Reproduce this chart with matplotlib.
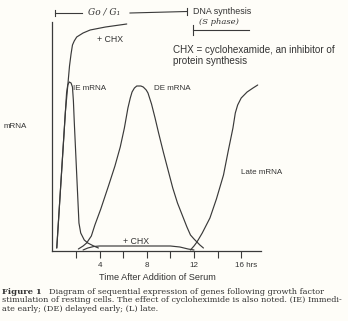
import matplotlib
matplotlib.use("Agg")
import matplotlib.pyplot as plt
import matplotlib.transforms as mtrans

# ---------------- data (hours after serum, relative mRNA level) ----------------
ie_hours = [0.37, 1.1, 1.2, 1.3, 1.43, 1.58, 1.7, 1.78, 1.85, 2.25, 2.4, 2.7, 3.0, 3.5, 3.9]
ie_level = [3, 139, 158, 166, 169, 168, 164, 150, 130, 28, 18, 11, 8, 5, 3]

ie_chx_hours = [0.37, 1.1, 1.3, 1.45, 1.58, 1.7, 1.85, 2.06, 2.6, 3.2, 4.5, 6.3]
ie_chx_level = [3, 139, 165, 185, 197, 206, 210, 214, 218, 221, 224, 227]

de_hours = [2.2, 2.6, 2.9, 3.3, 3.6, 4.1, 4.75, 5.3, 5.75, 6.1, 6.4, 6.6, 6.75, 6.95,
            7.15, 7.5, 7.7, 7.95, 8.1, 8.4, 8.7, 9.0, 9.4, 9.8, 10.2, 10.6, 11.0,
            11.4, 11.7, 12.0, 12.25, 12.5, 12.8]
de_level = [2, 5, 8, 15, 26, 42, 65, 85, 104, 123, 143, 153, 159, 163,
            165, 165, 164, 161, 158, 147, 133, 118, 99, 81, 63, 48, 36,
            24, 16, 12, 9, 6, 3]

de_chx_hours = [2.6, 3.0, 3.5, 4.0, 6.0, 8.0, 10.0, 10.8, 11.5, 12.0]
de_chx_level = [1, 3, 4.5, 5, 5, 5, 5, 4, 2, 1]

late_hours = [11.7, 12.0, 12.25, 12.7, 13.35, 13.9, 14.5, 14.9, 15.3, 15.5, 15.7,
              16.0, 16.5, 17.0, 17.4]
late_level = [1, 5, 9, 18, 33, 52, 76, 100, 123, 138, 146, 153, 159, 163, 166]

tick_hours = [2, 4, 6, 8, 10, 12, 14, 16]
tick_labels = ["", "4", "", "8", "", "12", "", "16 hrs"]

caption_lines = [
    "Diagram of sequential expression of genes following growth factor",
    "stimulation of resting cells. The effect of cycloheximide is also noted. (IE) Immedi-",
    "ate early; (DE) delayed early; (L) late.",
]

# ---------------- figure ----------------
W, H = 348, 321
fig = plt.figure(figsize=(W / 100, H / 100), dpi=100, facecolor="#fefdf8")
plt.rcParams["font.family"] = ["Liberation Sans", "DejaVu Sans"]

x0_px, y0_px = 52.4, 251.0
px_per_hr = 11.8
xmax, ymax = 17.7, 229.0
ax = fig.add_axes([x0_px / W, (H - y0_px) / H, xmax * px_per_hr / W, ymax / H])
ax.set_facecolor("none")
ax.set_xlim(0, xmax)
ax.set_ylim(0, ymax)

lc = "#3a3a3a"
lw = 0.85
for hx, ly in [(ie_chx_hours, ie_chx_level), (ie_hours, ie_level), (de_hours, de_level),
               (de_chx_hours, de_chx_level), (late_hours, late_level)]:
    ax.plot(hx, ly, color=lc, lw=lw, solid_capstyle="round", solid_joinstyle="round")

for s in ["top", "right"]:
    ax.spines[s].set_visible(False)
for s in ["left", "bottom"]:
    ax.spines[s].set_color(lc)
    ax.spines[s].set_linewidth(0.9)

ax.set_yticks([])
ax.set_xticks(tick_hours)
ax.set_xticklabels(tick_labels)
ax.tick_params(axis="x", direction="out", length=5, width=0.8, color=lc,
               labelsize=5.8, labelcolor="#333333", pad=3)
lab = ax.get_xticklabels()[-1]
lab.set_ha("left")
lab.set_transform(lab.get_transform() + mtrans.ScaledTranslation(-6 / 100, 0, fig.dpi_scale_trans))


def ptext(x, y, s, **kw):
    kw.setdefault("color", "#333333")
    kw.setdefault("va", "center")
    kw.setdefault("ha", "left")
    fig.text(x / W, 1 - y / H, s, **kw)


def pline(xs, ys, **kw):
    fig.add_artist(plt.Line2D([x / W for x in xs], [1 - y / H for y in ys],
                              color=kw.get("color", lc), lw=kw.get("lw", 0.8)))


# labels
ptext(97, 40, "+ CHX", fontsize=6.3)
ptext(173, 50, "CHX = cyclohexamide, an inhibitor of", fontsize=7.1)
ptext(173, 60.5, "protein synthesis", fontsize=7.1)
ptext(73, 89, "IE mRNA", fontsize=5.8)
ptext(154, 89, "DE mRNA", fontsize=5.8)
ptext(241, 173, "Late mRNA", fontsize=5.8)
ptext(4, 126, "mRNA", fontsize=5.8)
ptext(123, 242, "+ CHX", fontsize=6.3)
ptext(157, 277, "Time After Addition of Serum", fontsize=6.6, ha="center")

# handwritten top annotation
pline([55, 55], [10, 16])
pline([55, 82], [13.3, 13.3])
ptext(88, 12, "Go / G\u2081", fontsize=6.5, style="italic", family=["DejaVu Serif"])
pline([130, 187], [13, 11.5])
pline([187, 187], [8, 15])
ptext(193, 12, "DNA synthesis", fontsize=6.4)
ptext(199, 22, "(S phase)", fontsize=6, style="italic", family=["DejaVu Serif"])
pline([193.3, 193.3], [25, 35])
pline([193.3, 249], [29.5, 29.5])

# caption
cap_font = ["DejaVu Serif"]
fig.text(2 / W, 1 - 292 / H, "Figure 1", fontsize=6.0, weight="bold", family=cap_font,
         color="#333333", va="center", ha="left")
ptext(49, 292, caption_lines[0], fontsize=5.85, family=cap_font)
ptext(2, 300.5, caption_lines[1], fontsize=5.85, family=cap_font)
ptext(2, 309, caption_lines[2], fontsize=5.85, family=cap_font)

fig.savefig("out.png", dpi=100, facecolor=fig.get_facecolor())
